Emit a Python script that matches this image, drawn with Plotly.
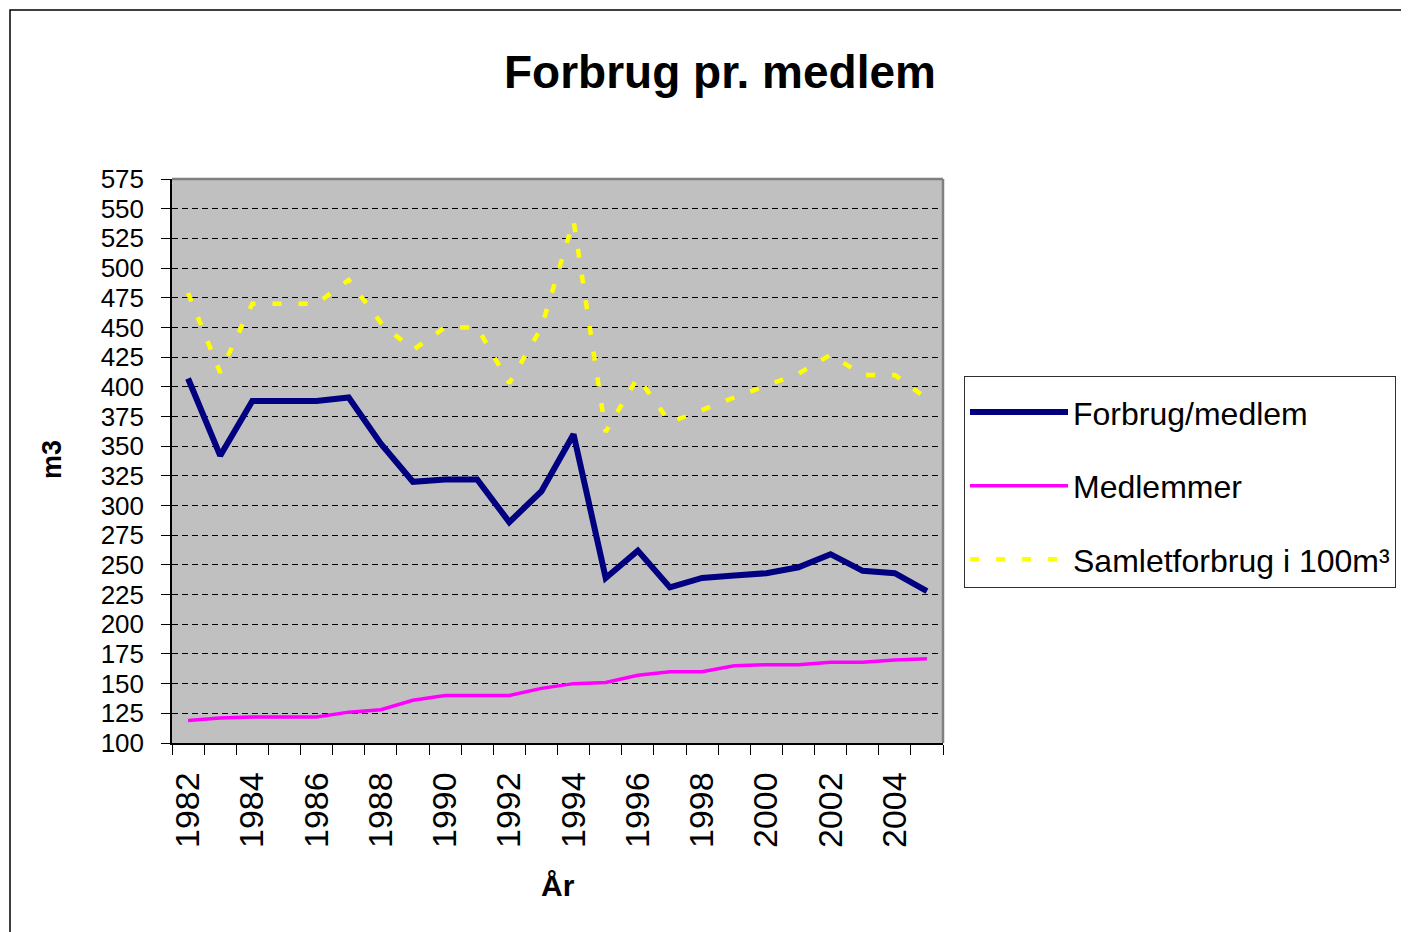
import plotly.graph_objects as go

years = list(range(1982, 2006))
forbrug_medlem = [407, 342, 388, 388, 388, 391, 352, 320, 322, 322, 286, 312,
                  360, 239, 262, 231, 239, 241, 243, 248, 259, 245, 243, 228]
medlemmer = [119, 121, 122, 122, 122, 126, 128, 136, 140, 140, 140, 146,
             150, 151, 157, 160, 160, 165, 166, 166, 168, 168, 170, 171]
samletforbrug = [479, 412, 470, 470, 470, 490, 454, 431, 450, 450, 403, 450,
                 540, 362, 408, 370, 381, 391, 401, 411, 427, 410, 410, 390]

even_years = [y for y in years if y % 2 == 0]
boundaries = [y - 0.5 for y in years] + [years[-1] + 0.5]

FONT = "Liberation Sans, Arial, sans-serif"
W, H = 1409, 932
OFF = 8  # page body margin
L, R, T, B = 172 - OFF, 943 - OFF, 179 - OFF, 743 - OFF
pw, ph = R - L, B - T


def px(x):
    return (x - OFF - L) / pw


def py(y):
    return (B - (y - OFF)) / ph


fig = go.Figure()
fig.add_trace(go.Scatter(x=years, y=forbrug_medlem, mode="lines", name="Forbrug/medlem",
                         line=dict(color="#000080", width=6), legendgroup="a"))
fig.add_trace(go.Scatter(x=years, y=medlemmer, mode="lines", name="Medlemmer",
                         line=dict(color="#FF00FF", width=3.5), legendgroup="b"))
fig.add_trace(go.Scatter(x=years, y=samletforbrug, mode="lines", name="Samletforbrug i 100m³",
                         line=dict(color="#FFFF00", width=4.5, dash="9px,17px"), legendgroup="c"))

fig.update_layout(
    width=W, height=H,
    margin=dict(l=L, r=W - R, t=T, b=H - B, autoexpand=False),
    paper_bgcolor="white",
    plot_bgcolor="#C0C0C0",
    font=dict(family=FONT, color="black"),
    title=dict(text="<b>Forbrug pr. medlem</b>", font=dict(size=46, family=FONT),
               xref="paper", x=px(720), xanchor="center",
               yref="container", y=1 - (72 - OFF) / H, yanchor="middle"),
    showlegend=True,
    legend=dict(x=px(964), xanchor="left", y=py(376), yanchor="top",
                bgcolor="white", bordercolor="#303030", borderwidth=1,
                font=dict(size=32, family=FONT), tracegroupgap=29,
                itemwidth=98,
                title=dict(text=" ", font=dict(size=6))),
    xaxis=dict(range=[1981.5, 2005.5], tickvals=even_years,
               ticktext=[str(y) for y in even_years], tickangle=-90,
               ticks="", ticklabelstandoff=14, tickfont=dict(size=34),
               showgrid=False, zeroline=False, showline=True,
               linecolor="black", linewidth=1.5,
               minor=dict(tickvals=boundaries, ticks="outside", ticklen=10,
                          tickcolor="black", tickwidth=1, showgrid=False)),
    yaxis=dict(range=[100, 575], dtick=25, tick0=100, ticks="outside", ticklen=9,
               tickcolor="black", tickfont=dict(size=26), ticklabelstandoff=12,
               showgrid=True, gridcolor="black", gridwidth=1, griddash="6px,4px",
               zeroline=False, showline=True, linecolor="black", linewidth=1.5),
    shapes=[
        dict(type="line", xref="paper", yref="paper", x0=0, x1=1, y0=1, y1=1,
             line=dict(color="#808080", width=2.5), layer="above"),
        dict(type="line", xref="paper", yref="paper", x0=1, x1=1, y0=0, y1=1,
             line=dict(color="#808080", width=2.5), layer="above"),
        dict(type="rect", xref="paper", yref="paper",
             x0=px(10), x1=px(1430), y0=py(950), y1=py(10),
             line=dict(color="black", width=1.5), layer="below"),
    ],
    annotations=[
        dict(text="<b>m3</b>", xref="paper", yref="paper", x=px(52), y=py(460),
             textangle=-90, showarrow=False, font=dict(size=27, family=FONT),
             xanchor="center", yanchor="middle"),
        dict(text="<b>År</b>", xref="paper", yref="paper", x=px(558), y=py(885),
             showarrow=False, font=dict(size=30, family=FONT),
             xanchor="center", yanchor="middle"),
    ],
)

fig.write_html("out.html")
